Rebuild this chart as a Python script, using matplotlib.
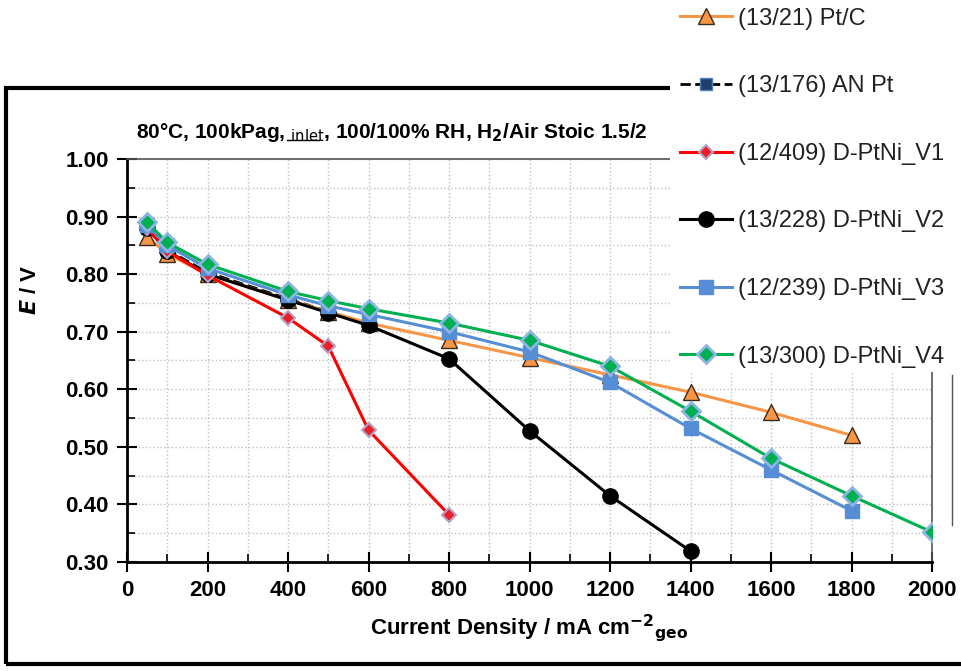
import matplotlib.pyplot as plt
from matplotlib.lines import Line2D
from matplotlib.patches import Rectangle
from matplotlib.ticker import MultipleLocator

# Dati
x_ptc = [50, 100, 200, 400, 500, 600, 800, 1000, 1200, 1400, 1600, 1800]
y_ptc = [0.865, 0.835, 0.800, 0.755, 0.735, 0.715, 0.685, 0.655, 0.625, 0.595, 0.560, 0.520]

x_anpt = [50, 100, 200, 400, 500, 600]
y_anpt = [0.880, 0.842, 0.803, 0.757, 0.735, 0.713]

x_v1 = [50, 100, 200, 400, 500, 600, 800]
y_v1 = [0.880, 0.840, 0.798, 0.724, 0.675, 0.529, 0.382]

x_v2 = [50, 100, 200, 400, 500, 600, 800, 1000, 1200, 1400]
y_v2 = [0.880, 0.840, 0.800, 0.755, 0.733, 0.711, 0.653, 0.528, 0.415, 0.319]

x_v3 = [50, 100, 200, 400, 500, 600, 800, 1000, 1200, 1400, 1600, 1800]
y_v3 = [0.885, 0.850, 0.810, 0.764, 0.745, 0.730, 0.700, 0.665, 0.612, 0.532, 0.460, 0.389]

x_v4 = [50, 100, 200, 400, 500, 600, 800, 1000, 1200, 1400, 1600, 1800, 2000]
y_v4 = [0.890, 0.855, 0.817, 0.770, 0.754, 0.740, 0.715, 0.685, 0.640, 0.562, 0.480, 0.415, 0.352]

labels = ["(13/21) Pt/C", "(13/176) AN Pt", "(12/409) D-PtNi_V1",
          "(13/228) D-PtNi_V2", "(12/239) D-PtNi_V3", "(13/300) D-PtNi_V4"]

plt.rcParams['font.family'] = ['Liberation Sans', 'DejaVu Sans']

fig = plt.figure(figsize=(9.61, 6.71), dpi=100)
ax = fig.add_axes([127 / 961, 1 - 562 / 671, (932 - 127) / 961, (562 - 159) / 671])

h_anpt, = ax.plot(x_anpt, y_anpt, color="black", linestyle="--", linewidth=2,
                  marker="s", markersize=9, markerfacecolor="#1F3F6A",
                  markeredgecolor="#4F81BD", zorder=2)
h_ptc, = ax.plot(x_ptc, y_ptc, color="#F79646", linewidth=2.2, marker="^",
                 markersize=11, markerfacecolor="#F79646", markeredgecolor="#3A2A1A",
                 markeredgewidth=1, zorder=3)
h_v1, = ax.plot(x_v1, y_v1, color="#FF0000", linewidth=2.2, marker="D",
                markersize=7, markerfacecolor="#E8202A", markeredgecolor="#B3A2C7",
                markeredgewidth=1.5, zorder=4)
h_v2, = ax.plot(x_v2, y_v2, color="black", linewidth=2.2, marker="o",
                markersize=11, markerfacecolor="black", markeredgecolor="black", zorder=3)
h_v3, = ax.plot(x_v3, y_v3, color="#558ED5", linewidth=2.2, marker="s",
                markersize=10, markerfacecolor="#558ED5", markeredgecolor="#558ED5", zorder=4)
h_v4, = ax.plot(x_v4, y_v4, color="#00B050", linewidth=2.2, marker="D",
                markersize=9, markerfacecolor="#00B050", markeredgecolor="#8EB4E3",
                markeredgewidth=2, zorder=5)

ax.set_xlim(0, 2000)
ax.set_ylim(0.30, 1.00)
ax.xaxis.set_major_locator(MultipleLocator(200))
ax.xaxis.set_minor_locator(MultipleLocator(100))
ax.yaxis.set_major_locator(MultipleLocator(0.1))
ax.yaxis.set_minor_locator(MultipleLocator(0.05))
ax.grid(which="both", color="#C0C0C0", linestyle=":", linewidth=1)
ax.set_axisbelow(True)
for s in ["left", "bottom"]:
    ax.spines[s].set_linewidth(2)
for s in ["top", "right"]:
    ax.spines[s].set_color("#555555")
    ax.spines[s].set_linewidth(1.2)
ax.tick_params(which="major", direction="inout", length=14, width=1.5, labelsize=16)
ax.tick_params(which="minor", direction="in", length=6, width=1.2)
ax.yaxis.set_major_formatter(plt.FuncFormatter(lambda v, p: f"{v:.2f}"))
for lab in ax.get_xticklabels() + ax.get_yticklabels():
    lab.set_fontweight("bold")
ax.tick_params(axis="x", pad=6)
ax.tick_params(axis="y", pad=6)

ax.set_xlabel("Current Density / mA cm$^{\\mathbf{-2}}$$_{\\mathbf{geo}}$",
              fontsize=16, fontweight="bold", labelpad=8)
fig.text(30 / 961, 1 - 290 / 671, "$\\mathbfit{E}$ / V", rotation=90,
         fontsize=16, fontweight="bold", ha="center", va="center")

fig.text(392 / 961, 1 - 133 / 671,
         "80°C, 100kPag, $_{\\mathrm{inlet}}$, 100/100% RH, H$_{\\mathbf{2}}$/Air Stoic 1.5/2",
         fontsize=15, fontweight="bold", ha="center", va="center")
# sottolineatura di "inlet"
fig.lines.append(Line2D([287 / 961, 319 / 961], [1 - 140 / 671, 1 - 140 / 671],
                        transform=fig.transFigure, color="black", linewidth=1))

# Cornice esterna
fig.patches.append(Rectangle((6 / 961, 1 - 664 / 671), 1.0, (664 - 88) / 671,
                             transform=fig.transFigure, fill=False,
                             edgecolor="black", linewidth=3, zorder=1))
fig.lines.append(Line2D([952 / 961, 952 / 961], [1 - 375 / 671, 1 - 525 / 671],
                        transform=fig.transFigure, color="#555555", linewidth=1))

# Riquadro bianco della legenda, sopra la cornice e il grafico
fig.patches.append(Rectangle((670 / 961, 1 - 372 / 671), 1.0, 1.0,
                             transform=fig.transFigure, facecolor="white",
                             edgecolor="none", zorder=10))

leg = fig.legend([h_ptc, h_anpt, h_v1, h_v2, h_v3, h_v4], labels,
                 loc="upper left", bbox_to_anchor=(0.700, 0.999),
                 labelspacing=1.93, handlelength=2.2,
                 handletextpad=0.25, borderaxespad=0, borderpad=0.3,
                 frameon=False, prop={'size': 17})
leg.set_zorder(11)
for t in leg.get_texts():
    t.set_color("#222222")

fig.savefig("out.png", dpi=100)
